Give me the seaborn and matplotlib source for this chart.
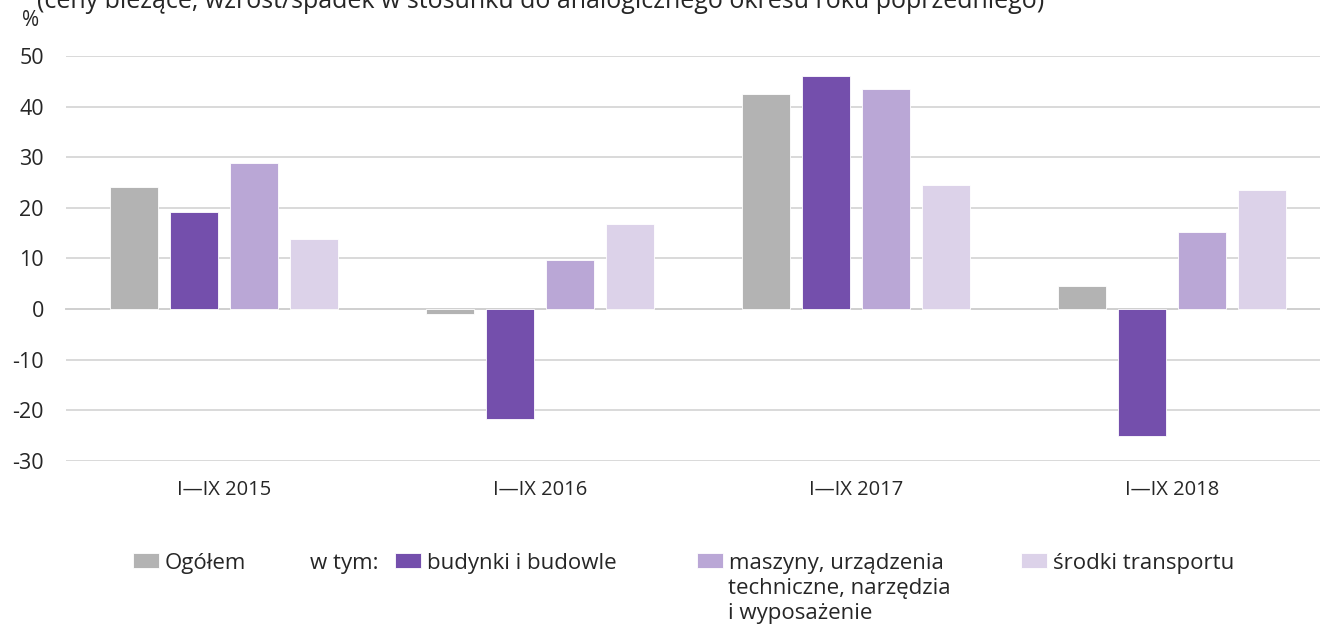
# Dynamika nakładów inwestycyjnych - wykres słupkowy
import pandas as pd
import numpy as np
import matplotlib
matplotlib.use("Agg")
import matplotlib.pyplot as plt
import seaborn as sns

# Dane
# -----------------------------------------------------------------------
okresy = ["I—IX 2015", "I—IX 2016", "I—IX 2017", "I—IX 2018"]
ogolem = [24.2, -0.9, 42.5, 4.5]
budynki = [19.1, -21.7, 46.1, -25.0]
maszyny = [28.9, 9.8, 43.5, 15.2]
transport = [13.8, 16.9, 24.6, 23.6]

serie = ["Ogółem", "budynki i budowle", "maszyny, urządzenia", "środki transportu"]
kolory = ["#b3b3b3", "#744fac", "#baa7d6", "#dcd2e9"]

y_ticks = [-30, -20, -10, 0, 10, 20, 30, 40, 50]

df = pd.DataFrame({
    "okres": okresy * 4,
    "seria": np.repeat(serie, len(okresy)),
    "wartosc": ogolem + budynki + maszyny + transport,
})

# Estilo
sns.set_style("white")
fuente = ["Open Sans", "Noto Sans", "DejaVu Sans"]
plt.rcParams["font.family"] = fuente

fig = plt.figure(figsize=(13.2, 6.3), dpi=100)
ax = fig.add_axes([66 / 1320, 1 - 461 / 630, 1264 / 1320, 405 / 630])

sns.barplot(data=df, x="okres", y="wartosc", hue="seria", order=okresy,
            hue_order=serie, palette=kolory, width=0.76, gap=0.2,
            edgecolor="white", linewidth=0.6, saturation=1, ax=ax, zorder=3)

ax.set_xlim(-0.5, 3.5)
ax.set_ylim(-30, 50)
ax.set_yticks(y_ticks)
ax.set_yticklabels([str(v) for v in y_ticks])
ax.yaxis.grid(True, color="#d9d9d9", linewidth=1.4, zorder=0)
ax.set_axisbelow(True)

for s in ["top", "right", "left"]:
    ax.spines[s].set_visible(False)
ax.spines["bottom"].set_position(("data", 0))
ax.spines["bottom"].set_color("#d0d0d0")
ax.spines["bottom"].set_linewidth(1.4)
ax.spines["bottom"].set_zorder(2)

ax.set_xticks(np.arange(-0.5, 4.0, 1.0), minor=True)
ax.tick_params(axis="x", which="minor", length=6, width=1.2, color="#d0d0d0")
ax.tick_params(axis="x", which="major", length=0, pad=123, labelsize=14.5)
ax.tick_params(axis="y", length=0, pad=16, labelsize=15.5)
for lab in ax.get_xticklabels() + ax.get_yticklabels():
    lab.set_fontfamily(fuente)
ax.set_xlabel("")
ax.set_ylabel("")

ax.get_legend().remove()

# Título (cortado arriba, como en el original) y unidad
fig.text(37 / 1320, 1 - 8 / 630,
         "(ceny bieżące, wzrost/spadek w stosunku do analogicznego okresu roku poprzedniego)",
         fontsize=18, ha="left", va="baseline")
fig.text(22 / 1320, 1 - 21 / 630, "%", fontsize=15, ha="left", va="center")

# Leyenda manual
handles, labels = ax.get_legend_handles_labels()
pos_x = [133, 395, 697, 1021]
for h, lab, px in zip(handles, labels, pos_x):
    fig.legend([h], [lab], loc="center left",
               bbox_to_anchor=(px / 1320, 1 - 563 / 630),
               frameon=False, fontsize=16, handlelength=1.17, handleheight=0.63,
               handletextpad=0.27, borderpad=0, borderaxespad=0)
fig.text(310 / 1320, 1 - 563 / 630, "w tym:", fontsize=16, ha="left", va="center")
fig.text(728 / 1320, 1 - 578 / 630, "techniczne, narzędzia\ni wyposażenie",
         fontsize=16, ha="left", va="top", linespacing=1.28)

fig.savefig("out.png", dpi=100)
